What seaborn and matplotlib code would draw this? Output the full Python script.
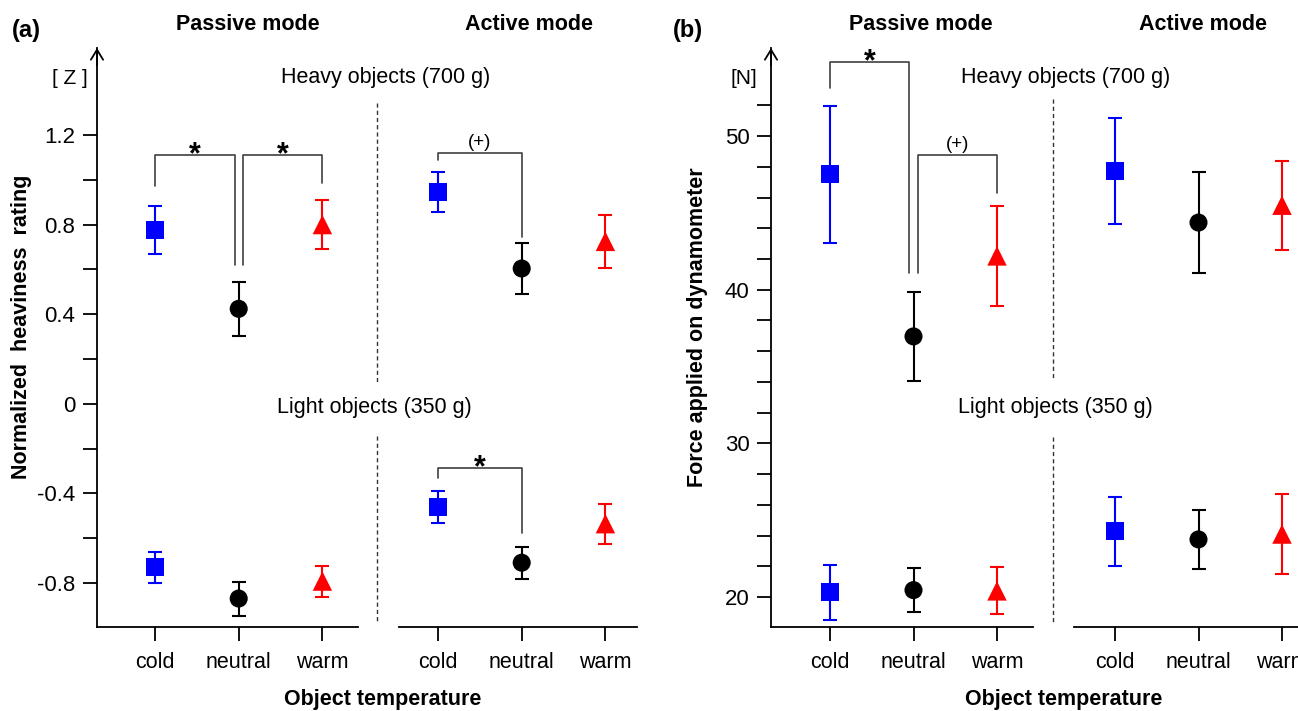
import numpy as np
import pandas as pd
import seaborn as sns
import matplotlib.pyplot as plt
from matplotlib.lines import Line2D

# conditions
temps = ['cold', 'neutral', 'warm']
colors = ['#0000ff', '#000000', '#ff0000']
markers = ['s', 'o', '^']
areas = [169, 169, 196]

# (a) normalized heaviness rating [Z]
a_heavy_passive = [0.776, 0.424, 0.800]
a_heavy_passive_err = [0.107, 0.120, 0.110]
a_heavy_active = [0.945, 0.604, 0.725]
a_heavy_active_err = [0.089, 0.114, 0.118]
a_light_passive = [-0.729, -0.869, -0.791]
a_light_passive_err = [0.069, 0.076, 0.069]
a_light_active = [-0.459, -0.709, -0.535]
a_light_active_err = [0.071, 0.071, 0.089]
a_yticks = [-0.8, -0.4, 0, 0.4, 0.8, 1.2]
a_yticklabels = ['-0.8', '-0.4', '0', '0.4', '0.8', '1.2']
a_yminor = [-0.6, -0.2, 0.2, 0.6, 1.0]

# (b) force applied on dynamometer [N]
b_heavy_passive = [47.5, 36.96, 42.2]
b_heavy_passive_err = [4.46, 2.90, 3.25]
b_heavy_active = [47.7, 44.37, 45.5]
b_heavy_active_err = [3.45, 3.30, 2.90]
b_light_passive = [20.3, 20.45, 20.4]
b_light_passive_err = [1.80, 1.43, 1.53]
b_light_active = [24.27, 23.75, 24.1]
b_light_active_err = [2.25, 1.90, 2.60]
b_yticks = [20, 30, 40, 50]
b_yticklabels = ['20', '30', '40', '50']
b_yminor = [22, 24, 26, 28, 32, 34, 36, 38, 42, 44, 46, 48, 52]

# significance brackets: x1, x2, top, leg1 end, leg2 end, label
a_pas_brackets = [(0, 0.95, 1.11, 0.97, 0.62, '*'),
                  (1.05, 2, 1.11, 0.62, 0.985, '*')]
a_act_brackets = [(0, 1, 1.12, 1.09, 0.745, '(+)'),
                  (0, 1, -0.285, -0.33, -0.575, '*')]
b_pas_brackets = [(0, 0.95, 54.8, 53.1, 41.1, '*'),
                  (1.05, 2, 48.76, 41.1, 46.3, '(+)')]

sns.set_style('ticks', rc={'axes.edgecolor': 'black', 'xtick.color': 'black',
                           'ytick.color': 'black', 'text.color': 'black'})
plt.rcParams['font.family'] = ['Liberation Sans', 'DejaVu Sans']

W, H = 1298, 711
fig = plt.figure(figsize=(W / 100, H / 100), dpi=100)


def fx(px):
    return px / W


def fy(py):
    return 1 - py / H


def make_axes(left, right, x_cold, step, ylim, top=48, bottom=627):
    ax = fig.add_axes([fx(left), fy(bottom), (right - left) / W, (bottom - top) / H])
    ax.set_xlim((left - x_cold) / step, (right - x_cold) / step)
    ax.set_ylim(*ylim)
    return ax


def draw_group(ax, means, errs):
    for i in range(3):
        ax.errorbar(i, means[i], yerr=errs[i], fmt='none', ecolor=colors[i],
                    elinewidth=1.5, capsize=5, capthick=1.5, zorder=2)
    d = pd.DataFrame({'x': [0, 1, 2], 'y': means, 'temp': temps})
    sns.scatterplot(data=d, x='x', y='y', hue='temp', style='temp', size='temp',
                    palette=dict(zip(temps, colors)), markers=dict(zip(temps, markers)),
                    sizes=dict(zip(temps, areas)), linewidth=0, legend=False,
                    ax=ax, zorder=3)


def bracket(ax, x1, x2, top, y1, y2, label):
    ax.plot([x1, x1, x2, x2], [y1, top, top, y2], color='#404040', lw=1.2, zorder=1)
    xm = (x1 + x2) / 2
    if label == '*':
        ax.annotate('*', (xm, top), xytext=(0, -6), textcoords='offset points',
                    ha='center', va='baseline', fontsize=22, fontweight='bold')
    else:
        ax.annotate(label, (xm, top), xytext=(0, 1.5), textcoords='offset points',
                    ha='center', va='bottom', fontsize=13.5)


def style_axes(ax, first, yticks, ylabels, yminor):
    ax.set_xlabel('')
    ax.set_ylabel('')
    ax.set_xticks([0, 1, 2])
    ax.set_xticklabels(temps)
    ax.tick_params(axis='x', direction='out', length=10, width=1.3, pad=8, labelsize=15.5)
    for s in ['top', 'right']:
        ax.spines[s].set_visible(False)
    ax.spines['bottom'].set_linewidth(1.3)
    if first:
        ax.set_yticks(yticks)
        ax.set_yticklabels(ylabels)
        ax.set_yticks(yminor, minor=True)
        ax.tick_params(axis='y', which='both', direction='out', length=10, width=1.3,
                       pad=5.5, labelsize=16)
        ax.spines['left'].set_linewidth(1.3)
        ax.annotate('', xy=(0, 1), xytext=(0, 0.97), xycoords='axes fraction',
                    arrowprops=dict(arrowstyle='->,head_length=0.36,head_width=0.22',
                                    lw=1.3, color='black', shrinkA=0, shrinkB=0,
                                    mutation_scale=20))
    else:
        ax.spines['left'].set_visible(False)
        ax.set_yticks([])
        ax.tick_params(axis='y', which='both', left=False, labelleft=False)


# panel (a)
a_ylim = (-0.996, 1.588)
a_pas = make_axes(97, 358, 155, 83.7, a_ylim)
a_act = make_axes(399, 637, 438, 83.7, a_ylim)
draw_group(a_pas, a_heavy_passive, a_heavy_passive_err)
draw_group(a_pas, a_light_passive, a_light_passive_err)
draw_group(a_act, a_heavy_active, a_heavy_active_err)
draw_group(a_act, a_light_active, a_light_active_err)
for b in a_pas_brackets:
    bracket(a_pas, *b)
for b in a_act_brackets:
    bracket(a_act, *b)
style_axes(a_pas, True, a_yticks, a_yticklabels, a_yminor)
style_axes(a_act, False, a_yticks, a_yticklabels, a_yminor)

# panel (b)
b_ylim = (18.05, 55.73)
b_pas = make_axes(771, 1033, 830, 83.5, b_ylim)
b_act = make_axes(1074, 1312, 1115, 83.5, b_ylim)
draw_group(b_pas, b_heavy_passive, b_heavy_passive_err)
draw_group(b_pas, b_light_passive, b_light_passive_err)
draw_group(b_act, b_heavy_active, b_heavy_active_err)
draw_group(b_act, b_light_active, b_light_active_err)
for b in b_pas_brackets:
    bracket(b_pas, *b)
style_axes(b_pas, True, b_yticks, b_yticklabels, b_yminor)
style_axes(b_act, False, b_yticks, b_yticklabels, b_yminor)

# dashed separators between modes
for x, segs in [(377, [(103, 383), (436, 623)]), (1053, [(99, 379), (437, 623)])]:
    for y0, y1 in segs:
        fig.add_artist(Line2D([fx(x), fx(x)], [fy(y0), fy(y1)], transform=fig.transFigure,
                              ls=(0, (3, 2.2)), lw=1.0, color='#333333'))

# texts
bold = dict(fontweight='bold', ha='center', va='center')
fig.text(fx(26), fy(30), '(a)', fontsize=17, **bold)
fig.text(fx(688), fy(30), '(b)', fontsize=17, **bold)
for x in [248, 921]:
    fig.text(fx(x), fy(24), 'Passive mode', fontsize=15.5, **bold)
for x in [529, 1203]:
    fig.text(fx(x), fy(24), 'Active mode', fontsize=15.5, **bold)
for x in [383, 1064]:
    fig.text(fx(x), fy(699), 'Object temperature', fontsize=15.5, **bold)
fig.text(fx(22), fy(327), 'Normalized  heaviness  rating', fontsize=15.5, rotation=90, **bold)
fig.text(fx(697), fy(327), 'Force applied on dynamometer', fontsize=15.5, rotation=90, **bold)

fig.text(fx(70), fy(78), '[ Z ]', fontsize=15, ha='center', va='center')
fig.text(fx(744), fy(78), '[N]', fontsize=15, ha='center', va='center')
fig.text(fx(386), fy(78), 'Heavy objects (700 g)', fontsize=15.5, ha='center', va='center')
fig.text(fx(374), fy(407), 'Light objects (350 g)', fontsize=15.5, ha='center', va='center')
fig.text(fx(1066), fy(78), 'Heavy objects (700 g)', fontsize=15.5, ha='center', va='center')
fig.text(fx(1055), fy(407), 'Light objects (350 g)', fontsize=15.5, ha='center', va='center')

fig.savefig('out.png', dpi=100)
